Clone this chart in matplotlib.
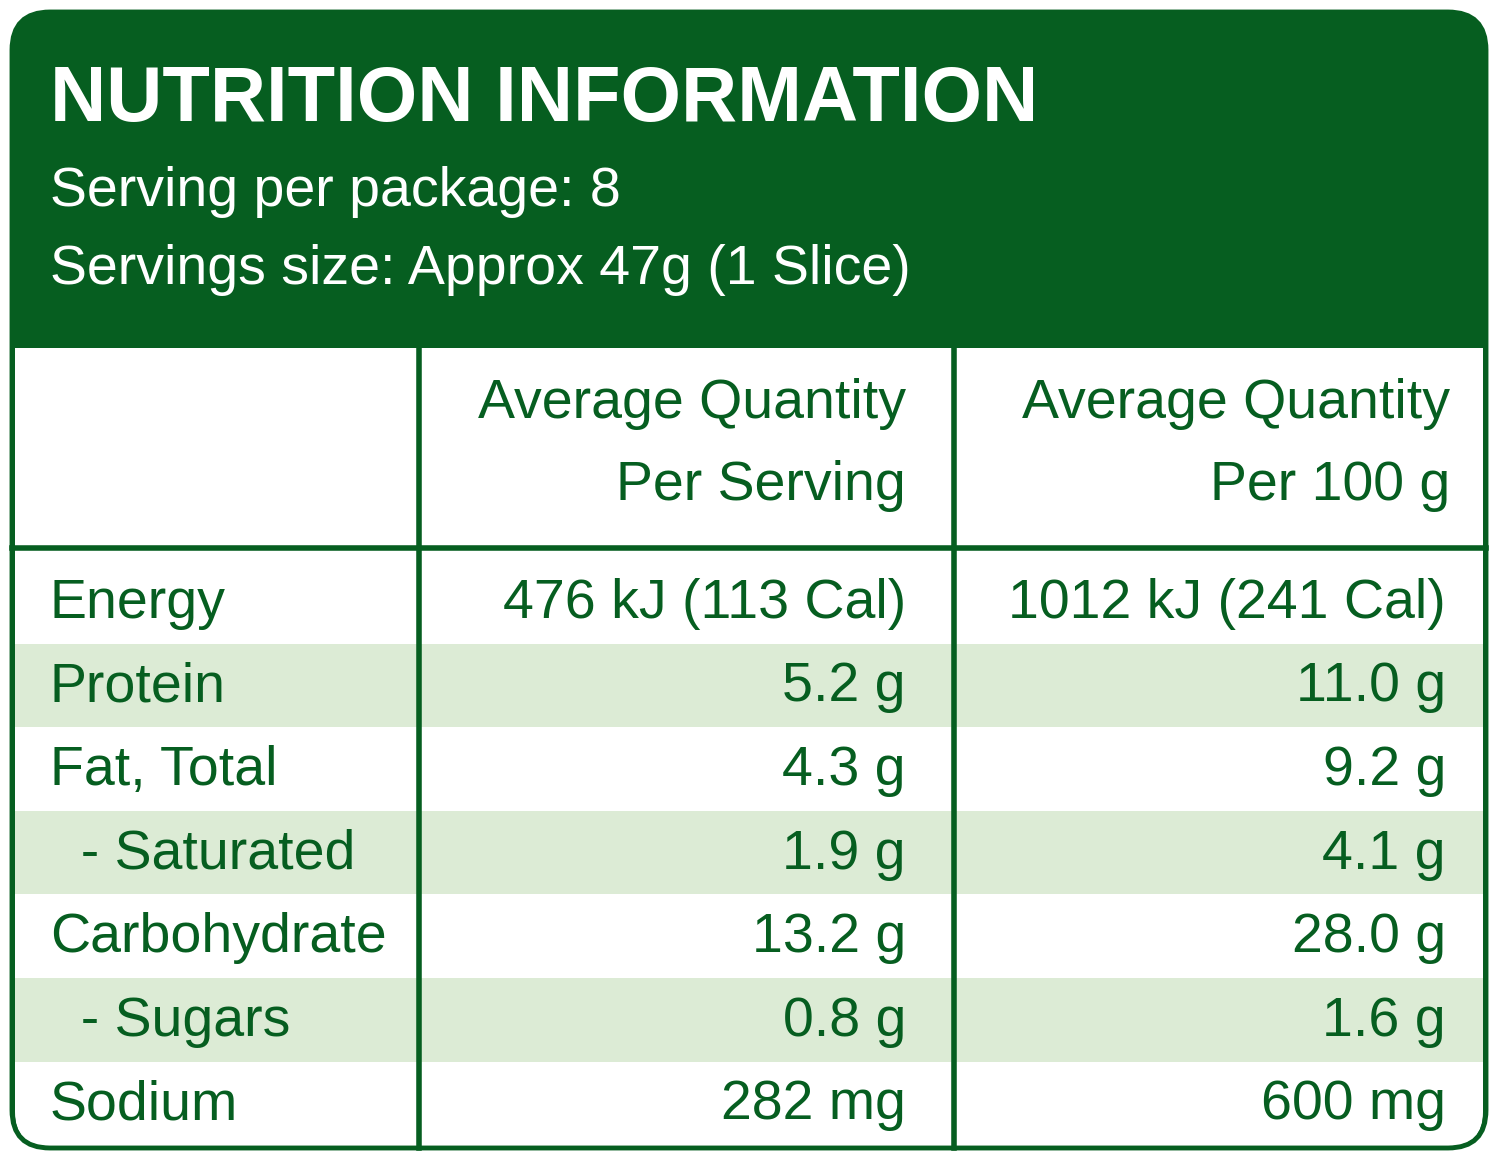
import matplotlib.pyplot as plt
from matplotlib.patches import FancyBboxPatch, Rectangle

plt.rcParams['font.family'] = ['Liberation Sans', 'DejaVu Sans']

GREEN = '#065e20'
LIGHT = '#dcebd5'

title = "NUTRITION INFORMATION"
subtitle = ["Serving per package: 8", "Servings size: Approx 47g (1 Slice)"]
col_heads = [["Average Quantity", "Per Serving"], ["Average Quantity", "Per 100 g"]]
nutrients = ["Energy", "Protein", "Fat, Total", "  - Saturated", "Carbohydrate", "  - Sugars", "Sodium"]
per_serving = ["476 kJ (113 Cal)", "5.2 g", "4.3 g", "1.9 g", "13.2 g", "0.8 g", "282 mg"]
per_100g = ["1012 kJ (241 Cal)", "11.0 g", "9.2 g", "4.1 g", "28.0 g", "1.6 g", "600 mg"]

FS = 40

fig = plt.figure(figsize=(15, 11.61), dpi=100)
ax = fig.add_axes([0, 0, 1, 1])
ax.set_xlim(0, 1500)
ax.set_ylim(1161, 0)
ax.axis('off')

# green header (rounded top), white body
ax.add_patch(FancyBboxPatch((12, 12), 1474, 1136, boxstyle="round,pad=0,rounding_size=38",
                            fc=GREEN, ec=GREEN, lw=0))
ax.add_patch(FancyBboxPatch((15, 300), 1468, 846, boxstyle="round,pad=0,rounding_size=34",
                            fc='white', ec='none', lw=0))
ax.add_patch(Rectangle((15, 300), 1468, 48, fc=GREEN, ec='none'))

row_top = 560
row_h = 83.6
for i in range(len(nutrients)):
    y0 = row_top + i * row_h
    if i % 2 == 1:
        ax.add_patch(Rectangle((15, y0), 1468, row_h, fc=LIGHT, ec='none'))
    yc = y0 + row_h / 2 + 2
    ax.text(50, yc, nutrients[i], color=GREEN, fontsize=FS, va='center', ha='left')
    ax.text(906, yc, per_serving[i], color=GREEN, fontsize=FS, va='center', ha='right')
    ax.text(1446, yc, per_100g[i], color=GREEN, fontsize=FS, va='center', ha='right')

# outer border
ax.add_patch(FancyBboxPatch((12, 12), 1474, 1136, boxstyle="round,pad=0,rounding_size=38",
                            fc='none', ec=GREEN, lw=3.5))
# grid lines
ax.plot([419, 419], [348, 1148], color=GREEN, lw=4)
ax.plot([954, 954], [348, 1148], color=GREEN, lw=4)
ax.plot([12, 1486], [548, 548], color=GREEN, lw=4)

ax.text(50, 100, title, color='white', fontsize=56, fontweight='bold', va='center', ha='left')
ax.text(50, 192, subtitle[0], color='white', fontsize=FS, va='center', ha='left')
ax.text(50, 270, subtitle[1], color='white', fontsize=FS, va='center', ha='left')

for xr, lines in zip([906, 1450], col_heads):
    ax.text(xr, 404, lines[0], color=GREEN, fontsize=FS, va='center', ha='right')
    ax.text(xr, 486, lines[1], color=GREEN, fontsize=FS, va='center', ha='right')

fig.savefig('out.png', dpi=100)
